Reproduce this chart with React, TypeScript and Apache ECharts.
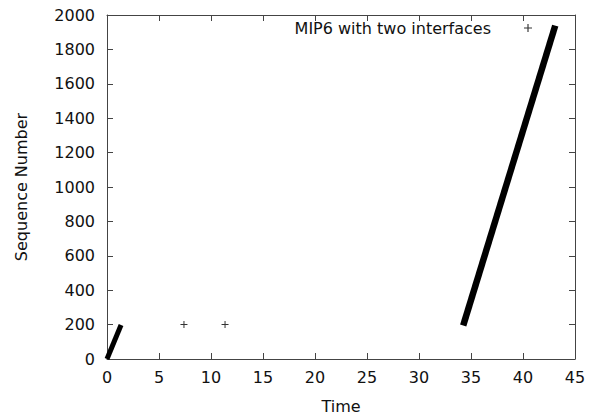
import React, { useEffect, useRef } from "react";
import * as echarts from "echarts";

const seriesName = "MIP6 with two interfaces";
// dense runs of packets drawn as thick segments (start/end points)
const burst1: [number, number][] = [[0, 0], [1.35, 198]];
const burst2: [number, number][] = [[34.25, 195], [43.1, 1938]];
// isolated packets
const isolated: [number, number][] = [[7.4, 200], [11.35, 200]];

const xMin = 0, xMax = 45, xStep = 5;
const yMin = 0, yMax = 2000, yStep = 200;

const FONT = "DejaVu Sans";
const CROSS = "path://M0,3h7v1h-7zM3,0h1v7h-1z";

export default function App() {
  const ref = useRef<HTMLDivElement>(null);
  useEffect(() => {
    const chart = echarts.init(ref.current!, null, { renderer: "svg" });
    const axisLine = () => ({ show: true, onZero: false, lineStyle: { color: "#444", width: 1 } });
    const tick = () => ({ show: true, inside: true, length: 6, lineStyle: { color: "#444", width: 1 } });
    const label = { color: "#111", fontFamily: FONT, fontSize: 16 };
    chart.setOption({
      animation: false,
      backgroundColor: "#fff",
      grid: { left: 107, right: 25, top: 15, bottom: 58, containLabel: false },
      legend: {
        data: [{ name: seriesName, icon: CROSS }],
        right: 68,
        top: 20,
        padding: 0,
        align: "right",
        itemWidth: 8,
        itemHeight: 8,
        textStyle: { ...label, padding: [0, 28, 0, 0] },
      },
      xAxis: [
        {
          type: "value", position: "bottom", min: xMin, max: xMax, interval: xStep,
          name: "Time", nameLocation: "middle", nameGap: 39,
          nameTextStyle: { ...label },
          axisLine: axisLine(), axisTick: tick(), splitLine: { show: false },
          axisLabel: { ...label, margin: 10 },
        },
        {
          type: "value", position: "top", min: xMin, max: xMax, interval: xStep,
          axisLine: axisLine(), axisTick: tick(), splitLine: { show: false },
          axisLabel: { show: false },
        },
      ],
      yAxis: [
        {
          type: "value", position: "left", min: yMin, max: yMax, interval: yStep,
          name: "Sequence Number", nameLocation: "middle", nameGap: 78,
          nameTextStyle: { ...label },
          axisLine: axisLine(), axisTick: tick(), splitLine: { show: false },
          axisLabel: { ...label, margin: 12, formatter: (v: number) => String(v) },
        },
        {
          type: "value", position: "right", min: yMin, max: yMax, interval: yStep,
          axisLine: axisLine(), axisTick: tick(), splitLine: { show: false },
          axisLabel: { show: false },
        },
      ],
      series: [
        {
          name: seriesName, type: "scatter", data: isolated,
          symbol: CROSS, symbolSize: 7,
          itemStyle: { color: "#000" },
        },
        {
          name: "burst1", type: "line", data: burst1, showSymbol: false, symbol: "none",
          lineStyle: { color: "#000", width: 5, cap: "butt" },
        },
        {
          name: "burst2", type: "line", data: burst2, showSymbol: false, symbol: "none",
          lineStyle: { color: "#000", width: 6.5, cap: "butt" },
        },
      ],
    });
    return () => chart.dispose();
  }, []);
  return <div ref={ref} style={{ position: "fixed", left: 0, top: 0, width: 600, height: 419 }} />;
}
